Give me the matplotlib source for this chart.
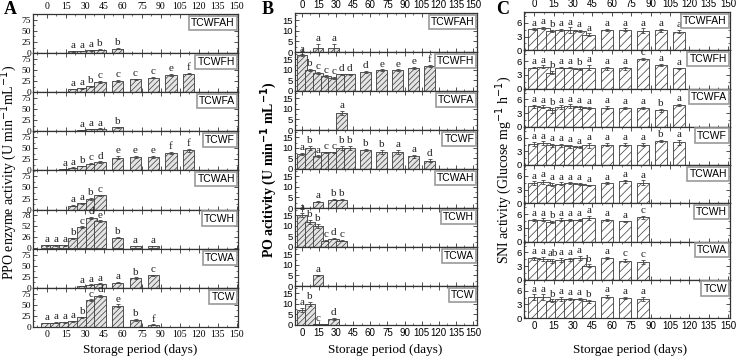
import numpy as np
import matplotlib.pyplot as plt
from matplotlib.ticker import MultipleLocator

plt.rcParams['hatch.linewidth'] = 0.5

SERIF = 'Liberation Serif'
SANS = 'Liberation Sans'

rows = ['TCWFAH', 'TCWFH', 'TCWFA', 'TCWF', 'TCWAH', 'TCWH', 'TCWA', 'TCW']

# Panel A - PPO enzyme activity
ppo_days = {
    'TCWFAH': [21, 28, 35, 42, 56],
    'TCWFH': [21, 28, 35, 42, 56, 70, 84, 98, 112],
    'TCWFA': [28, 35, 42, 56],
    'TCWF': [14, 21, 28, 35, 42, 56, 70, 84, 98, 112],
    'TCWAH': [21, 28, 35, 42],
    'TCWH': [0, 7, 14, 21, 28, 35, 42, 56, 70, 84],
    'TCWA': [28, 35, 42, 56, 70, 84],
    'TCW': [0, 7, 14, 21, 28, 35, 42, 56, 70, 84],
}
ppo_vals = {
    'TCWFAH': [4, 5, 6, 8, 10],
    'TCWFH': [7, 9, 13, 23, 25, 29, 33, 39, 42],
    'TCWFA': [3, 5, 6, 9],
    'TCWF': [3, 6, 10, 15, 19, 29, 30, 31, 39, 45],
    'TCWAH': [9, 14, 24, 32],
    'TCWH': [5, 5, 5, 22, 50, 72, 64, 24, 3, 3],
    'TCWA': [4, 7, 9, 12, 22, 28],
    'TCW': [9, 10, 11, 13, 22, 60, 70, 48, 16, 5],
}
ppo_err = {
    'TCWFAH': [0.5, 0.5, 0.8, 1, 1],
    'TCWFH': [0.5, 0.8, 1, 2, 2, 1.5, 1.5, 2, 1.5],
    'TCWFA': [0.5, 0.5, 0.8, 1],
    'TCWF': [0.5, 0.8, 1, 1.5, 1.5, 3, 2, 2, 3, 3.5],
    'TCWAH': [1, 1.5, 2, 1.5],
    'TCWH': [1, 1, 1, 1, 1.5, 2, 2, 1, 0.5, 0.5],
    'TCWA': [0.5, 0.8, 1, 1.5, 1.5, 2],
    'TCW': [1, 1, 1, 1, 1, 2, 1.5, 3, 1.5, 1],
}
ppo_let = {
    'TCWFAH': ['a', 'a', 'a', 'b', 'b'],
    'TCWFH': ['a', 'a', 'b', 'c', 'c', 'c', 'c', 'e', 'f'],
    'TCWFA': ['a', 'a', 'a', 'b'],
    'TCWF': ['a', 'a', 'b', 'c', 'd', 'e', 'e', 'e', 'f', 'f'],
    'TCWAH': ['a', 'a', 'b', 'c'],
    'TCWH': ['a', 'a', 'a', 'b', 'c', 'd', 'e', 'b', 'a', 'a'],
    'TCWA': ['a', 'a', 'a', 'a', 'b', 'c'],
    'TCW': ['a', 'a', 'a', 'a', 'b', 'c', 'd', 'e', 'b', 'f'],
}

# Panel B - PO activity
po_days = {
    'TCWFAH': [14, 28],
    'TCWFH': [0, 7, 14, 21, 28, 35, 42, 56, 70, 84, 98, 112],
    'TCWFA': [35],
    'TCWF': [0, 7, 14, 21, 28, 35, 42, 56, 70, 84, 98, 112],
    'TCWAH': [14, 28, 35],
    'TCWH': [0, 7, 14, 21, 28, 35],
    'TCWA': [14],
    'TCW': [0, 7, 14, 21, 28],
}
po_vals = {
    'TCWFAH': [2, 2],
    'TCWFH': [17, 10, 8.5, 7, 6.3, 8, 8, 9, 10, 10, 11, 12],
    'TCWFA': [8],
    'TCWF': [7, 10, 6, 8, 8, 10, 10, 9, 8, 8, 6, 4],
    'TCWAH': [3, 4, 4],
    'TCWH': [15, 12, 10, 3, 4, 3],
    'TCWA': [5],
    'TCW': [7, 10, 0.5, 0.5, 3],
}
po_err = {
    'TCWFAH': [2, 2],
    'TCWFH': [0.4, 0.5, 0.4, 0.4, 0.4, 0.3, 0.3, 0.4, 0.3, 0.3, 0.4, 0.4],
    'TCWFA': [1],
    'TCWF': [0.5, 1, 0.5, 0.3, 0.3, 1, 1, 0.5, 1, 1, 0.6, 0.8],
    'TCWAH': [0.2, 0.4, 0.4],
    'TCWH': [1, 1, 1, 0.3, 0.3, 0.3],
    'TCWA': [0.3],
    'TCW': [1, 1, 0.2, 0.2, 0.4],
}
po_let = {
    'TCWFAH': ['a', 'a'],
    'TCWFH': ['a', 'b', 'c', 'c', 'c', 'd', 'd', 'd', 'e', 'e', 'e', 'f'],
    'TCWFA': ['a'],
    'TCWF': ['a', 'b', 'a', 'c', 'c', 'b', 'b', 'b', 'b', 'a', 'a', 'd'],
    'TCWAH': ['a', 'b', 'b'],
    'TCWH': ['a', 'b', 'b', 'c', 'd', 'c'],
    'TCWA': ['a'],
    'TCW': ['a', 'b', 'c', '', 'd'],
}

# Panel C - SNI activity
sni_long = [0, 7, 14, 21, 28, 35, 42, 56, 70, 84, 98, 112]
sni_short = [0, 7, 14, 21, 28, 35, 42, 56, 70, 84]
sni_days = {
    'TCWFAH': sni_long, 'TCWFH': sni_long, 'TCWFA': sni_long, 'TCWF': sni_long,
    'TCWAH': sni_short, 'TCWH': sni_short, 'TCWA': sni_short, 'TCW': sni_short,
}
sni_vals = {
    'TCWFAH': [4.6, 4.9, 4.3, 4.5, 4.4, 4.2, 3.4, 4.5, 4.5, 4.3, 4.4, 4.1],
    'TCWFH': [4.6, 4.8, 3.5, 4.6, 4.6, 4.3, 4.6, 4.4, 4.4, 6.5, 5.2, 4.4],
    'TCWFA': [4.5, 4.4, 3.6, 4.3, 4.5, 4.3, 4.2, 4.2, 4.2, 4.1, 3.6, 4.8],
    'TCWF': [4.6, 4.8, 4.3, 4.3, 4.1, 3.9, 4.3, 4.5, 4.5, 4.5, 5.3, 5.0],
    'TCWAH': [4.4, 4.7, 4.1, 4.3, 4.4, 4.2, 3.9, 4.4, 4.8, 4.5],
    'TCWH': [4.7, 4.8, 4.3, 4.8, 4.7, 4.7, 5.2, 4.7, 4.4, 5.3],
    'TCWA': [4.7, 4.6, 4.1, 4.3, 4.5, 4.8, 3.1, 4.8, 4.2, 3.9],
    'TCW': [4.6, 4.6, 3.8, 4.2, 4.2, 4.2, 3.7, 4.7, 4.4, 4.2],
}
sni_err = {
    'TCWFAH': [0.2, 0.3, 0.2, 0.2, 0.6, 0.2, 0.3, 0.2, 0.3, 0.5, 0.3, 0.3],
    'TCWFH': [0.2, 0.3, 0.3, 0.2, 0.2, 0.3, 0.6, 0.4, 0.4, 0.3, 0.2, 0.2],
    'TCWFA': [0.3, 0.3, 0.5, 0.4, 0.4, 0.3, 0.2, 0.3, 0.2, 0.2, 0.3, 0.2],
    'TCWF': [0.4, 0.4, 0.3, 0.3, 0.3, 0.2, 0.6, 0.3, 0.3, 0.3, 0.2, 0.6],
    'TCWAH': [0.4, 0.5, 0.3, 0.3, 0.2, 0.3, 0.2, 0.2, 0.3, 0.5],
    'TCWH': [0.3, 0.3, 0.3, 0.3, 0.3, 0.3, 0.4, 0.3, 0.2, 0.4],
    'TCWA': [0.3, 0.4, 0.5, 0.5, 0.3, 0.4, 0.3, 0.3, 0.3, 0.4],
    'TCW': [0.6, 0.6, 0.3, 0.4, 0.2, 0.2, 0.3, 0.3, 0.2, 0.4],
}
sni_let = {
    'TCWFAH': ['a', 'a', 'b', 'a', 'a', 'a', 'a', 'a', 'a', 'a', 'a', 'a'],
    'TCWFH': ['a', 'a', 'b', 'a', 'a', 'b', 'a', 'a', 'a', 'c', 'a', 'a'],
    'TCWFA': ['a', 'a', 'b', 'a', 'a', 'a', 'a', 'a', 'a', 'a', 'b', 'a'],
    'TCWF': ['a', 'a', 'a', 'a', 'a', 'a', 'a', 'a', 'a', 'a', 'b', 'a'],
    'TCWAH': ['a', 'a', 'a', 'a', 'a', 'a', 'a', 'a', 'a', 'a'],
    'TCWH': ['a', 'a', 'b', 'a', 'a', 'a', 'a', 'a', 'a', 'c'],
    'TCWA': ['a', 'a', 'ab', 'a', 'a', 'a', 'b', 'a', 'c', 'c'],
    'TCW': ['a', 'a', 'b', 'a', 'a', 'a', 'b', 'a', 'a', 'a'],
}

W, H = 738, 359
fig = plt.figure(figsize=(W / 100, H / 100), dpi=100)


def draw_panel(px_left, px_right, px_top, px_bottom, days, vals, errs, lets,
               xlim, bw, ylims, yticks, tickfont, hatch, fc):
    rh = (px_bottom - px_top) / len(rows)
    axes = []
    for i, r in enumerate(rows):
        y0 = px_top + (i + 1) * rh
        ax = fig.add_axes([px_left / W, 1 - y0 / H, (px_right - px_left) / W, rh / H])
        ylo, yhi = ylims.get(r, ylims['default'])
        ax.bar(days[r], vals[r], width=bw, color=fc, edgecolor='#3a3a3a',
               hatch=hatch, linewidth=0.6, zorder=2)
        ax.errorbar(days[r], vals[r], yerr=errs[r], fmt='none', ecolor='#444',
                    elinewidth=0.6, capsize=1.5, capthick=0.6, zorder=3)
        off = (yhi - ylo) * 0.02
        for d, v, e, t in zip(days[r], vals[r], errs[r], lets[r]):
            ax.text(d, v + e + off, t, ha='center', va='bottom', fontsize=8,
                    family=SERIF, color='#222')
        yt = yticks.get(r, yticks['default'])
        ax.set_xlim(*xlim)
        ax.set_ylim(ylo, yhi)
        ax.set_yticks(yt)
        ax.xaxis.set_major_locator(MultipleLocator(15))
        ax.xaxis.set_minor_locator(MultipleLocator(7.5))
        ax.yaxis.set_minor_locator(MultipleLocator((yt[1] - yt[0]) / 2))
        ax.tick_params(which='both', direction='in', top=True, right=True,
                       labelbottom=(i == len(rows) - 1), labeltop=(i == 0),
                       labelsize=7, pad=2, color='#333')
        ax.tick_params(axis='y', labelsize=6.8, pad=1.5)
        ax.tick_params(which='major', length=3, width=0.6)
        ax.tick_params(which='minor', length=1.5, width=0.5)
        for lab in ax.get_xticklabels() + ax.get_yticklabels():
            lab.set_family(tickfont)
        for s in ax.spines.values():
            s.set_linewidth(0.9)
            s.set_color('#333')
        ax.text(0.985, 0.9, r, transform=ax.transAxes, ha='right', va='top',
                fontsize=7.5, family=SANS,
                bbox=dict(boxstyle='square,pad=0.2', fc='white', ec='#9a9a9a', lw=1.2),
                zorder=5)
        axes.append(ax)
    return axes


draw_panel(33, 238, 14, 327, ppo_days, ppo_vals, ppo_err, ppo_let,
           (-11, 151), 9,
           {'default': (0, 88), 'TCWH': (-3, 92)},
           {'default': [0, 25, 50, 75], 'TCWH': [0, 26, 52, 78]},
           SERIF, '//////', '#e4e4e4')
draw_panel(295, 477, 13, 325, po_days, po_vals, po_err, po_let,
           (-6, 153.5), 9.3,
           {'default': (0, 18.5)},
           {'default': [0, 5, 10, 15]},
           SANS, '//////', '#e4e4e4')
draw_panel(524, 730, 12, 318, sni_days, sni_vals, sni_err, sni_let,
           (-8, 151.5), 9.5,
           {'default': (0, 8.4)},
           {'default': [0, 3, 6]},
           SANS, '////', 'white')

# panel letters
fig.text(10 / W, 1 - 9 / H, 'A', fontsize=13, weight='bold', family=SERIF, ha='center', va='center')
fig.text(268 / W, 1 - 9 / H, 'B', fontsize=13, weight='bold', family=SERIF, ha='center', va='center')
fig.text(503 / W, 1 - 9 / H, 'C', fontsize=13, weight='bold', family=SERIF, ha='center', va='center')

# y labels
fig.text(9 / W, 1 - 172 / H, r'PPO enzyme activity (U min$^{-1}$mL$^{-1}$)', rotation=90,
         fontsize=10, family=SERIF, ha='center', va='center')
fig.text(269 / W, 1 - 170 / H, r'PO acitivity (U min$^{\mathbf{-1}}$ mL$^{\mathbf{-1}}$)', rotation=90,
         fontsize=10, weight='bold', family=SERIF, ha='center', va='center')
fig.text(504 / W, 1 - 170 / H, r'SNI activity (Glucose mg$^{-1}$ h$^{-1}$)', rotation=90,
         fontsize=10, family=SERIF, ha='center', va='center')

# x labels
fig.text(140 / W, 1 - 350 / H, 'Storage period (days)', fontsize=9.5, family=SERIF, ha='center', va='center')
fig.text(385 / W, 1 - 350 / H, 'Storage period (days)', fontsize=9.5, family=SERIF, ha='center', va='center')
fig.text(630 / W, 1 - 350 / H, 'Storgae period (days)', fontsize=9.5, family=SERIF, ha='center', va='center')

fig.savefig('out.png', dpi=100)
